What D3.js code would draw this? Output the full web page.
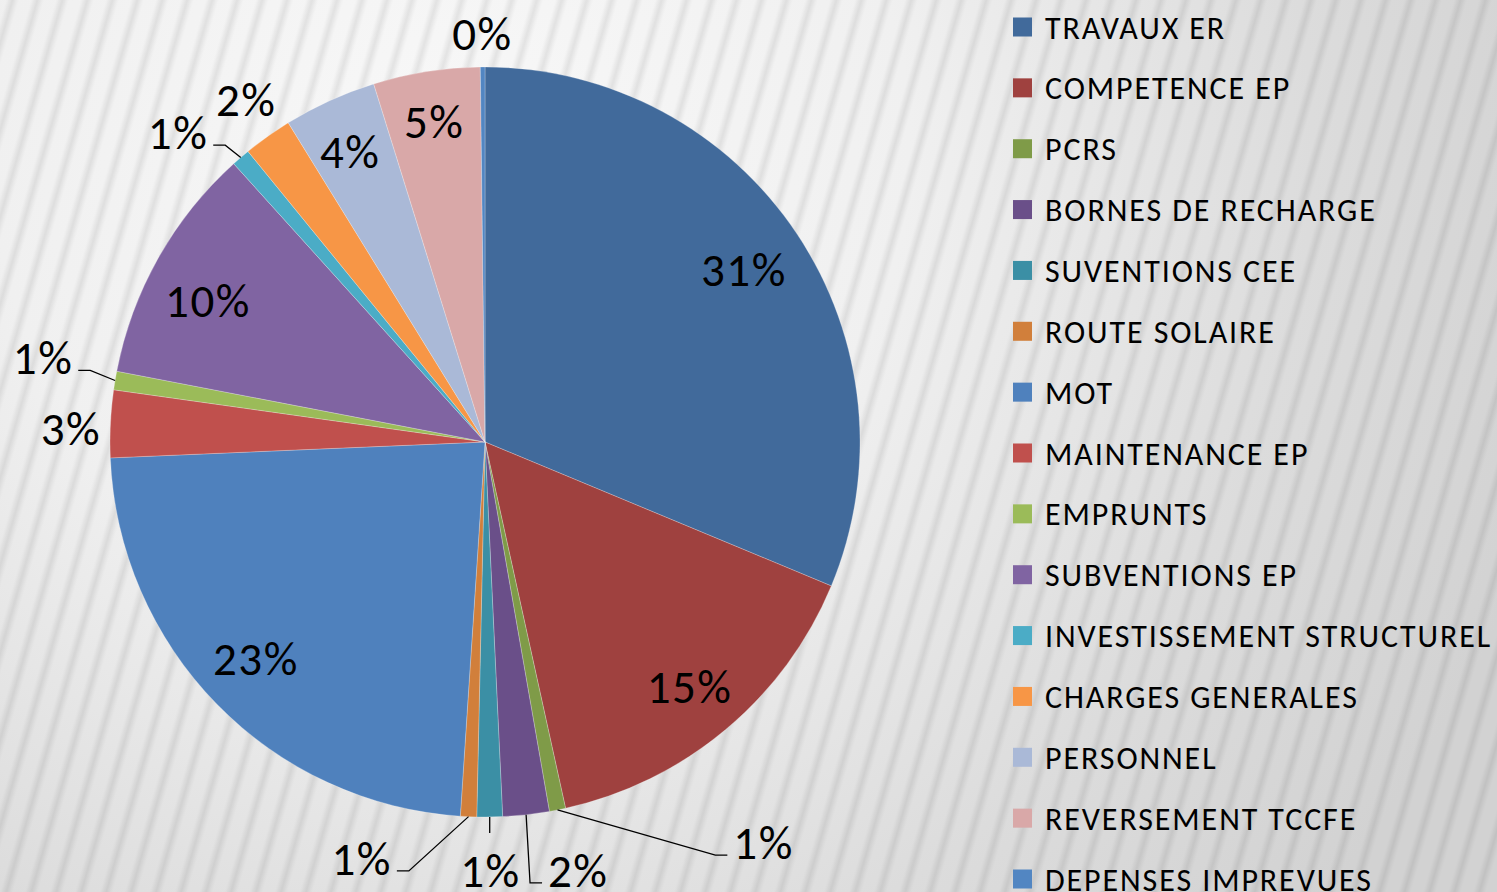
<!DOCTYPE html>
<meta charset="utf-8">
<script src="https://d3js.org/d3.v7.min.js"></script>
<style>
  body { margin: 0; overflow: hidden; }
  svg { display: block; }
</style>
<div id="chart"></div>
<script>
// Categories, clockwise from 12 o'clock (also the legend order).
var categories = ["TRAVAUX ER", "COMPETENCE EP", "PCRS", "BORNES DE RECHARGE", "SUVENTIONS CEE",
  "ROUTE SOLAIRE", "MOT", "MAINTENANCE EP", "EMPRUNTS", "SUBVENTIONS EP",
  "INVESTISSEMENT STRUCTUREL", "CHARGES GENERALES", "PERSONNEL", "REVERSEMENT TCCFE", "DEPENSES IMPREVUES"];

// Share of the budget, in percent.
var values = [31.3, 15.3, 0.7, 2.0, 1.1, 0.7, 23.3, 2.9, 0.8, 10.3, 0.8, 2.1, 4.0, 4.6, 0.2];

var colors = ["#416a9b", "#9f413f", "#7f9b48", "#6a4f89", "#3b8fa5",
  "#d17f3b", "#4f81bd", "#c0504d", "#9bbb59", "#8064a2",
  "#4bacc6", "#f79646", "#aab9d7", "#d9a8a8", "#5286c2"];

// Where each percentage label sits: radius (x R) and angle shift (deg) from mid-slice.
var labelRadius = [0.83, 0.85, 1.30, 1.168, 1.141, 1.157, 0.84, 1.105, 1.20, 0.83, 1.163, 1.115, 0.856, 0.867, 1.09];
var labelShift = [0, 0, -23.7, -6, 0, 14, 1, -0.8, 1.4, -2.3, -4.1, 0.6, -0.4, 0, 0];
var leader = [null, null, "right", "right", "below", "left", null, null, "left", null, "left", null, null, null, null];

var W = 1497, H = 892;
var cx = 485, cy = 442, R = 375;
var font = "Carlito, Calibri, Lato, sans-serif";

var data = categories.map(function(c, i) { return {name: c, value: values[i], i: i}; });

var svg = d3.select("#chart").append("svg")
    .attr("width", W)
    .attr("height", H);

// background: grey shading with soft, slightly slanted stripes
var defs = svg.append("defs");
var bg = defs.append("radialGradient").attr("id", "bg")
    .attr("gradientUnits", "userSpaceOnUse")
    .attr("cx", 450).attr("cy", 150).attr("r", 1150);
bg.append("stop").attr("offset", "0%").attr("stop-color", "#f8f8f8");
bg.append("stop").attr("offset", "40%").attr("stop-color", "#f0f0f0");
bg.append("stop").attr("offset", "75%").attr("stop-color", "#dcdcdc");
bg.append("stop").attr("offset", "100%").attr("stop-color", "#d2d2d2");

var sg = defs.append("linearGradient").attr("id", "stripe")
    .attr("x1", 0).attr("y1", 0).attr("x2", 1).attr("y2", 0);
[[0, 0], [0.25, 0], [0.5, 0.08], [0.75, 0], [1, 0]].forEach(function(s) {
  sg.append("stop").attr("offset", s[0]).attr("stop-color", "#000").attr("stop-opacity", s[1]);
});
defs.append("pattern").attr("id", "stripes")
    .attr("patternUnits", "userSpaceOnUse")
    .attr("width", 24).attr("height", 10)
    .attr("patternTransform", "rotate(16)")
  .append("rect")
    .attr("width", 24).attr("height", 10)
    .attr("fill", "url(#stripe)");

svg.append("rect").attr("width", W).attr("height", H).attr("fill", "url(#bg)");
svg.append("rect").attr("width", W).attr("height", H).attr("fill", "url(#stripes)");

// pie
var pie = d3.pie().sort(null).value(function(d) { return d.value; });
var arc = d3.arc().innerRadius(0).outerRadius(R);
var arcs = pie(data);

var g = svg.append("g").attr("transform", "translate(" + cx + "," + cy + ")");

g.selectAll("path.slice")
  .data(arcs)
  .enter()
  .append("path")
    .attr("class", "slice")
    .attr("d", arc)
    .attr("fill", function(d) { return colors[d.data.i]; })
    .attr("stroke", "#ffffff")
    .attr("stroke-opacity", 0.35)
    .attr("stroke-width", 0.7);

function polar(a, r) { return [r * Math.sin(a), -r * Math.cos(a)]; }

var total = d3.sum(values);

// percentage labels
arcs.forEach(function(d) {
  var i = d.data.i;
  var mid = (d.startAngle + d.endAngle) / 2;
  var p = polar(mid + labelShift[i] * Math.PI / 180, labelRadius[i] * R);
  var t = g.append("text")
      .attr("x", p[0])
      .attr("y", p[1] + 17)
      .attr("text-anchor", "middle")
      .attr("font-family", font)
      .attr("font-size", 47)
      .attr("letter-spacing", 1.5)
      .attr("fill", "#000")
      .text(Math.round(d.data.value / total * 100) + "%");

  if (!leader[i]) return;
  var w = t.node().getComputedTextLength();
  var p0 = polar(mid, R);
  var pts;
  if (leader[i] === "below") {
    pts = [p0, [p0[0], p0[1] + 16]];
  } else if (leader[i] === "left") {
    var e = [p[0] + w / 2 + 5, p[1] + 13];
    pts = [p0, [e[0] + 12, e[1]], e];
  } else {
    var e2 = [p[0] - w / 2 - 6, p[1] + 13];
    pts = [p0, [e2[0] - 12, e2[1]], e2];
  }
  g.append("path")
      .attr("d", d3.line()(pts))
      .attr("fill", "none")
      .attr("stroke", "#000")
      .attr("stroke-width", 1.3);
});

// legend
var ly = d3.scalePoint().domain(categories).range([27, 879]);
var legend = svg.append("g");
categories.forEach(function(c, i) {
  legend.append("rect")
      .attr("x", 1013)
      .attr("y", ly(c) - 9.5)
      .attr("width", 19)
      .attr("height", 19)
      .attr("fill", colors[i]);
  legend.append("text")
      .attr("x", 1045)
      .attr("y", ly(c) + 11.5)
      .attr("font-family", font)
      .attr("font-size", 32)
      .attr("letter-spacing", 1.9)
      .attr("fill", "#000")
      .text(c);
});
</script>
